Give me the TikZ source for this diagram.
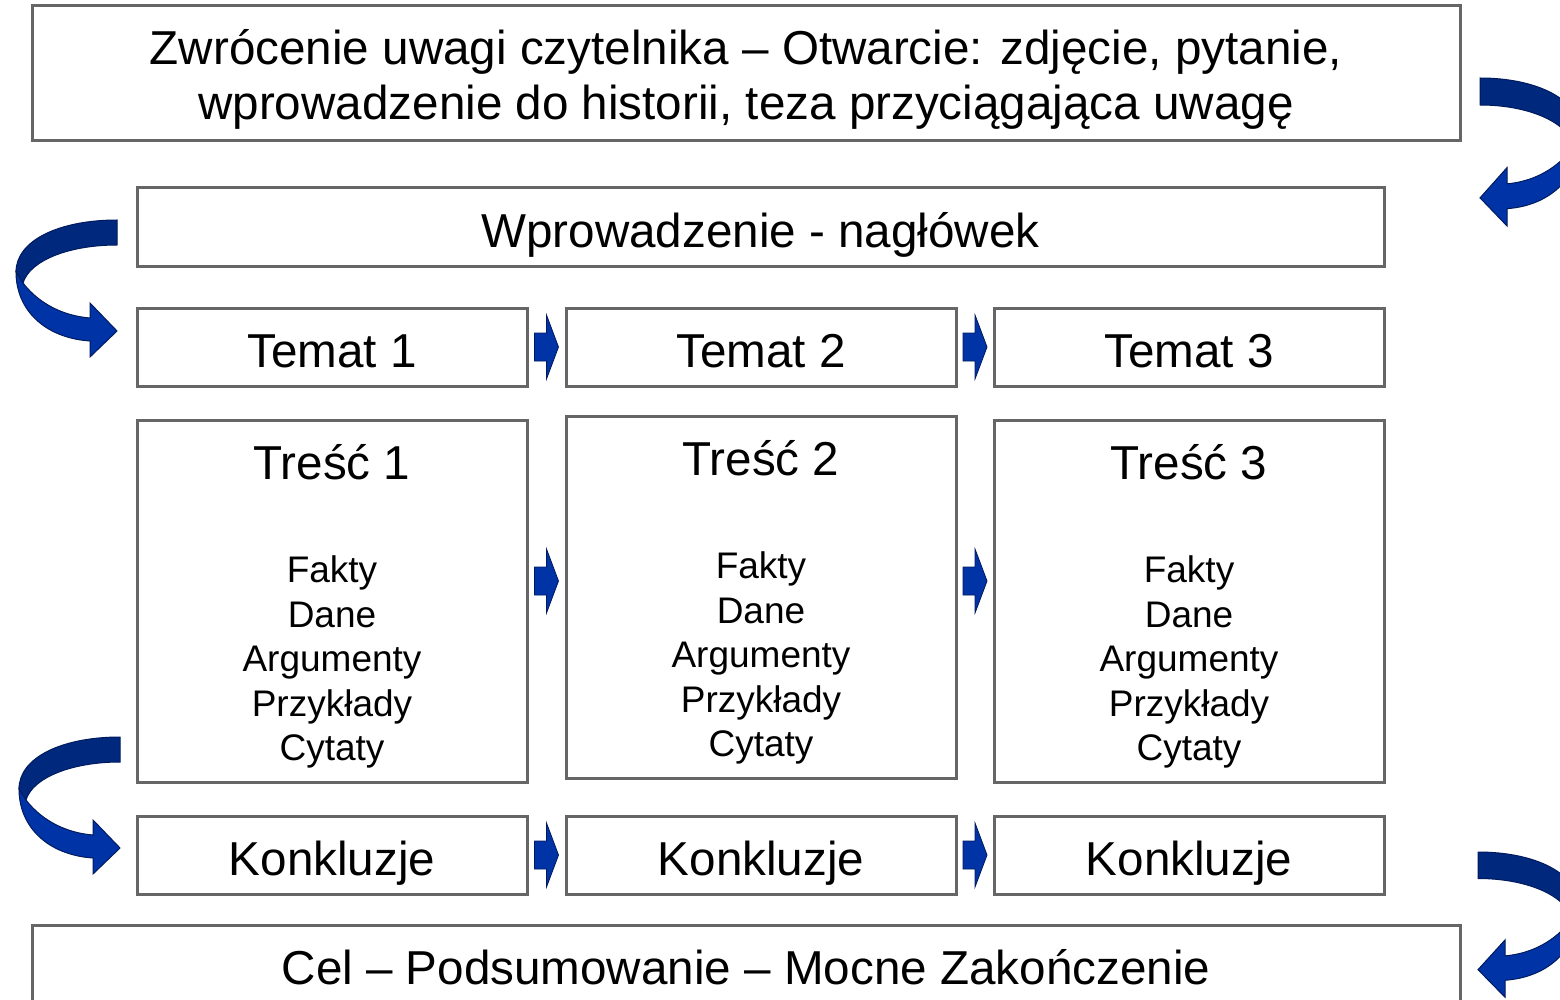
\documentclass[tikz,border=0pt]{standalone}
\usepackage{fontspec}
\setmainfont{Liberation Sans}
\usetikzlibrary{calc}

\definecolor{boxgray}{HTML}{666666}
\definecolor{navydark}{HTML}{00287D}
\definecolor{navylight}{HTML}{0034A6}
\definecolor{navyedge}{HTML}{001A5E}

\newcommand\bigtxt{\fontsize{47.6}{55}\selectfont}
\newcommand\listtxt{\fontsize{37}{44.5}\selectfont}

\tikzset{
  box/.style={draw=boxgray, line width=3pt, fill=white, inner sep=0pt,
    font=\bigtxt, text height=46pt, text depth=6pt},
  widebox/.style={box, minimum width=1428pt, minimum height=135pt},
  headbox/.style={box, minimum width=1247pt, minimum height=79pt},
  cellbox/.style={box, minimum width=390pt, minimum height=78pt},
  contentbox/.style={box, minimum width=390pt, minimum height=362pt},
  caption/.style={inner sep=0pt, align=center, font=\bigtxt},
  items/.style={inner sep=0pt, align=center, font=\listtxt},
  blockarrow/.style={fill=navylight, draw=navyedge, line width=0.8pt, line join=miter},
  % curved ribbon arrow: back face darker, front face with the head lighter
  bentarrow/.pic={
    \filldraw[fill=navydark, draw=navyedge, line width=1pt]
      (0,0) -- (0,25) .. controls (-47,25) and (-87,40) .. (-94,63)
      -- (-101,52) .. controls (-101,20) and (-57,0) .. (0,0) -- cycle;
    \filldraw[fill=navylight, draw=navyedge, line width=1pt]
      (-101,52) -- (-94,63) .. controls (-77,85) and (-52,96) .. (-27,98)
      -- (-27,83) -- (0,111) -- (-27,137) -- (-27,121)
      .. controls (-72,118) and (-101,90) .. (-101,52) -- cycle;
  }
}

\newcommand\smallarrow[1]{%
  \begin{scope}[shift={#1}]
    \filldraw[blockarrow] (-12,-14) -- (0,-14) -- (0,-32) -- (12,0)
      -- (0,32) -- (0,14) -- (-12,14) -- cycle;
  \end{scope}}

\begin{document}
\begin{tikzpicture}[x=1pt, y=-1pt]
  \useasboundingbox (0,0) rectangle (1560,1000);
  \fill[white] (0,0) rectangle (1560,1000);
  \clip (0,0) rectangle (1560,1000);

  % opening and closing
  \node[widebox] (open) at (746,73.5) {};
  \node[caption] (opent) at (746,79.5)
    {Zwrócenie uwagi czytelnika – Otwarcie: zdjęcie, pytanie,\\
     wprowadzenie do historii, teza przyciągająca uwagę};
  \node[headbox] (intro) at (760.5,227.5) {Wprowadzenie - nagłówek};
  \node[widebox, minimum height=90pt] (close) at (746,970) {};
  \node[caption] (closet) at (746,967) {Cel – Podsumowanie – Mocne Zakończenie};

  % topics
  \node[cellbox] (t1) at (332,347) {Temat 1};
  \node[cellbox] (t2) at (761,347) {Temat 2};
  \node[cellbox] (t3) at (1189,347) {Temat 3};

  % contents
  \node[contentbox] (c1) at (332,601) {};
  \node[contentbox] (c2) at (761,597) {};
  \node[contentbox] (c3) at (1189,601) {};
  \foreach \n/\x/\y in {1/332/462, 2/761/458, 3/1189/462} {
    \node[caption] (c\n t) at (\x,\y) {Treść \n};
    \node[items] (c\n l) at (\x,\y+200) {Fakty\\Dane\\Argumenty\\Przykłady\\Cytaty};
  }

  % conclusions
  \node[cellbox] (k1) at (332,855) {Konkluzje};
  \node[cellbox] (k2) at (761,855) {Konkluzje};
  \node[cellbox] (k3) at (1189,855) {Konkluzje};

  % block arrows between neighbouring boxes
  \smallarrow{($(t1.east)!0.5!(t2.west)$)}
  \smallarrow{($(t2.east)!0.5!(t3.west)$)}
  \smallarrow{($(c1.east)!0.5!(c2.west)+(0,-18)$)}
  \smallarrow{($(c2.east)!0.5!(c3.west)+(0,-18)$)}
  \smallarrow{($(k1.east)!0.5!(k2.west)$)}
  \smallarrow{($(k2.east)!0.5!(k3.west)$)}

  % curved arrows leading into the next section
  \pic at (117,220) {bentarrow};
  \pic at (120,737) {bentarrow};
  \pic[xscale=-1, yscale=1.08] at (1480,78) {bentarrow};
  \pic[xscale=-1, yscale=1.06] at (1478,852) {bentarrow};
\end{tikzpicture}
\end{document}
